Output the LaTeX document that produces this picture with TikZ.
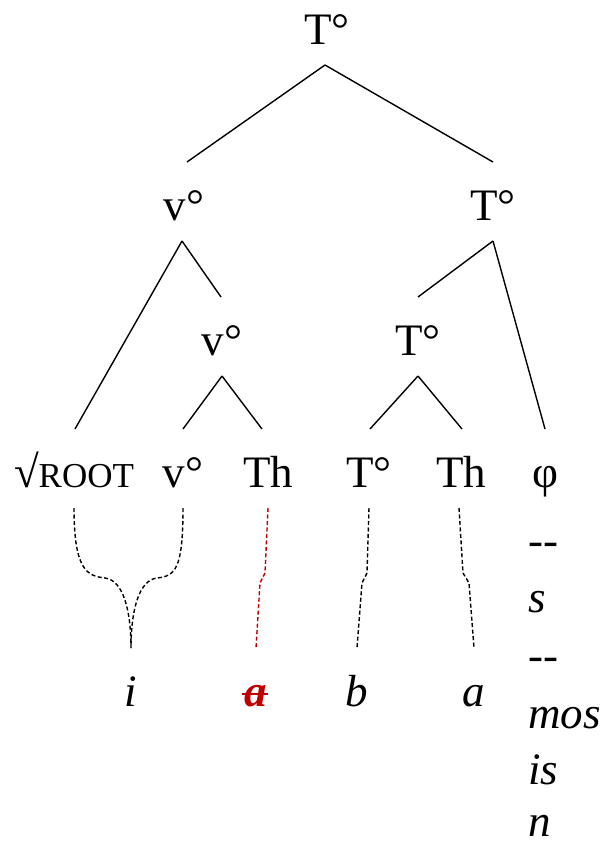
\documentclass[tikz,border=0pt]{standalone}
\usepackage{fontspec}
\setmainfont{Liberation Serif}
\definecolor{strikered}{HTML}{C00000}
\begin{document}
\begin{tikzpicture}[x=1pt,y=-1pt,
  lbl/.style={inner sep=0pt, outer sep=0pt, anchor=base, font=\fontsize{45}{50}\selectfont},
  tnode/.style={lbl, text height=58pt, text depth=21pt},
  inode/.style={lbl, text height=58pt, text depth=0pt, font=\fontsize{45}{50}\selectfont\itshape},
  cnode/.style={inner sep=0pt, anchor=base west, font=\fontsize{45}{50}\selectfont\itshape},
  branch/.style={line width=1.4pt},
  assoc/.style={line width=1.4pt, dash pattern=on 4pt off 2.5pt},
]
\useasboundingbox (0,0) rectangle (609,847);
% tree nodes
\node[tnode] (t0) at (327,44) {T°};
\node[tnode] (v1) at (184,220) {v°};
\node[tnode] (t1) at (493,220) {T°};
\node[tnode] (v2) at (222,355) {v°};
\node[tnode] (t2) at (418,355) {T°};
\node[tnode] (root) at (74,487) {√{\fontsize{35}{40}\selectfont ROOT}};
\node[tnode] (v3) at (183,487) {v°};
\node[tnode] (th1) at (268,487) {Th};
\node[tnode] (t3) at (369,487) {T°};
\node[tnode] (th2) at (461,487) {Th};
\node[tnode] (phi) at (545,487) {φ};
% right column
\node[cnode] (h1) at (528,555) {-{}-};
\node[cnode] (s) at (528,612) {s};
\node[cnode] (h2) at (528,670) {-{}-};
\node[cnode] (mos) at (528,728) {mos};
\node[cnode] (is) at (528,784) {is};
\node[cnode] (n) at (528,836) {n};
% exponents
\node[inode] (ei) at (131,706) {i};
\node[inode, text=strikered, font=\fontsize{45}{50}\selectfont\itshape\bfseries] (ea) at (256,706) {a};
\node[inode] (eb) at (357,706) {b};
\node[inode] (ea2) at (474,706) {a};
\draw[strikered, line width=2.5pt] ([xshift=-14pt,yshift=12pt]ea.base) -- ([xshift=12pt,yshift=12pt]ea.base);
% branches
\draw[branch] ([xshift=-2pt]t0.south) -- ([xshift=3pt]v1.north);
\draw[branch] ([xshift=-2pt]t0.south) -- (t1.north);
\draw[branch] ([xshift=-2pt]v1.south) -- ([xshift=1pt]root.north);
\draw[branch] ([xshift=-2pt]v1.south) -- ([xshift=-1pt]v2.north);
\draw[branch] (t1.south) -- (t2.north);
\draw[branch] (t1.south) -- (phi.north);
\draw[branch] (v2.south) -- (v3.north);
\draw[branch] (v2.south) -- ([xshift=-6pt]th1.north);
\draw[branch] (t2.south) -- ([xshift=1pt]t3.north);
\draw[branch] (t2.south) -- ([xshift=1pt]th2.north);
% associations
\draw[assoc] (root.south) .. controls +(0,62) and +(-18,-2) .. (105,578)
  .. controls +(18,2) and +(0,-38) .. (ei.north);
\draw[assoc] (v3.south) .. controls +(0,62) and +(18,-2) .. (157,578)
  .. controls +(-18,2) and +(0,-38) .. (ei.north);
\draw[assoc, strikered] (th1.south) -- (265,573) -- (260,583) -- (ea.north);
\draw[assoc] (t3.south) -- (367,573) -- (362,583) -- (eb.north);
\draw[assoc] ([xshift=-2pt]th2.south) -- (463,573) -- (469,583) -- (ea2.north);
\end{tikzpicture}
\end{document}
